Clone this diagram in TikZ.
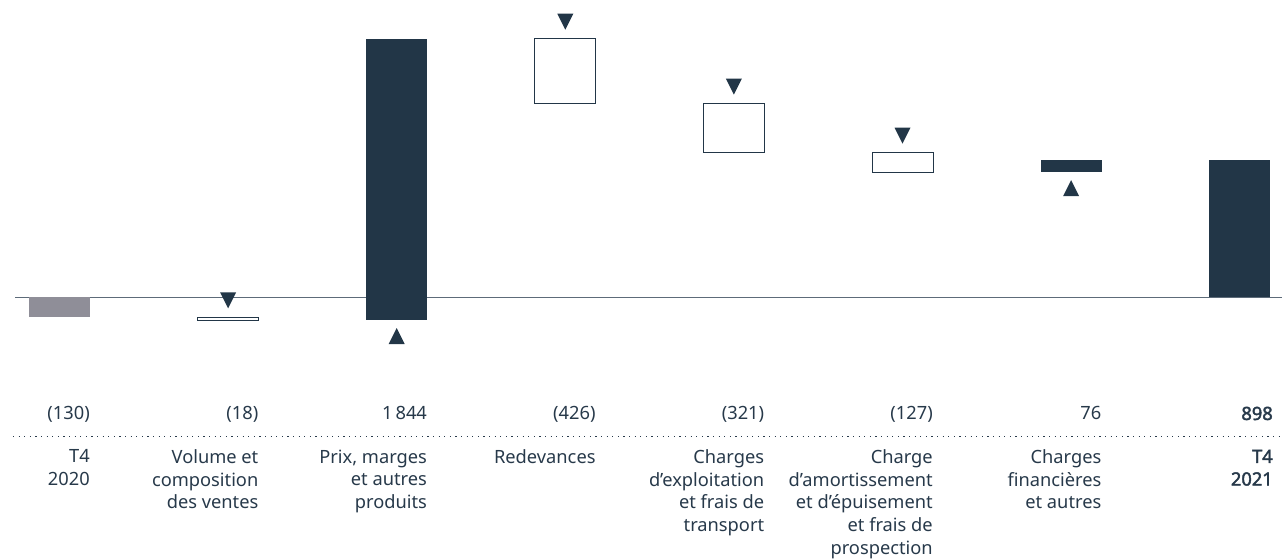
\documentclass[tikz,border=0pt]{standalone}
\usepackage{fontspec}
\setmainfont{Noto Sans}
\newfontfamily\heavy{Noto Sans}[FakeBold=2.2]
\usepackage{tikz}

\definecolor{navy}{HTML}{223647}
\definecolor{inkblue}{HTML}{27394A}
\definecolor{slate}{HTML}{5D6B79}
\definecolor{greybar}{HTML}{8F8E98}

\tikzset{
  openbar/.style={draw=navy,line width=0.75pt,fill=white},
  dnmark/.pic={\fill[navy] (0,6.75pt) -- (-6pt,18.75pt) -- (6pt,18.75pt) -- cycle;},
  upmark/.pic={\fill[navy] (0,-6pt) -- (-6pt,-18pt) -- (6pt,-18pt) -- cycle;},
  val/.style={anchor=base east,inner sep=0pt,text=inkblue},
  lbl/.style={anchor=north east,inner sep=0pt,align=right,text=inkblue},
  total/.style={font=\fontsize{13.7pt}{17pt}\selectfont\heavy},
}

\begin{document}
\begin{tikzpicture}[x=0.75pt,y=0.75pt,font=\fontsize{13.7pt}{17pt}\selectfont]
  \useasboundingbox (0,0) rectangle (1282,559);
  % bars: y counted in data units from the axis
  \begin{scope}[shift={(0,261.5)},y=0.11445pt]
    \draw[slate,line width=1.1pt] (15,0) -- (1282,0);
    \fill[greybar] (29,-130) rectangle ++(61,130);
    \draw[openbar] (197.6,-130) rectangle ++(61,-18);
    \fill[navy] (366.2,-148) rectangle ++(61,1844);
    \draw[openbar] (534.8,1696) rectangle ++(61,-426);
    \draw[openbar] (703.4,1270) rectangle ++(61,-321);
    \draw[openbar] (872,949) rectangle ++(61,-127);
    \fill[navy] (1040.6,822) rectangle ++(61,76);
    \fill[navy] (1209.2,0) rectangle ++(61,898);
    % direction marks
    \foreach \x/\v in {228.1/-130,565.3/1696,733.9/1270,902.5/949}
      \pic at (\x,\v) {dnmark};
    \foreach \x/\v in {396.7/-148,1071.1/822}
      \pic at (\x,\v) {upmark};
  \end{scope}

  % values
  \node[val] (v1) at (90,139) {(130)};
  \node[val] (v2) at (258.6,139) {(18)};
  \node[val] (v3) at (427.2,139) {1\,844};
  \node[val] (v4) at (595.8,139) {(426)};
  \node[val] (v5) at (764.4,139) {(321)};
  \node[val] (v6) at (933,139) {(127)};
  \node[val] (v7) at (1101.6,139) {76};
  \node[val,total] (v8) at (1273,139) {898};

  \draw[inkblue,line width=0.9pt,dash pattern=on 0.9pt off 3.3pt] (13,122.3) -- (1282,122.3);

  % categories
  \node[lbl] (c1) at (90,109.5) {T4\\2020};
  \node[lbl] (c2) at (258.6,109.5) {Volume et\\composition\\des ventes};
  \node[lbl] (c3) at (427.2,109.5) {Prix, marges\\et autres\\produits};
  \node[lbl] (c4) at (595.8,109.5) {Redevances};
  \node[lbl] (c5) at (764.4,109.5) {Charges\\d’exploitation\\et frais de\\transport};
  \node[lbl] (c6) at (933,109.5) {Charge\\d’amortissement\\et d’épuisement\\et frais de\\prospection};
  \node[lbl] (c7) at (1101.6,109.5) {Charges\\financières\\et autres};
  \node[lbl,total] (c8) at (1273,109.5) {T4\\2021};
\end{tikzpicture}
\end{document}
